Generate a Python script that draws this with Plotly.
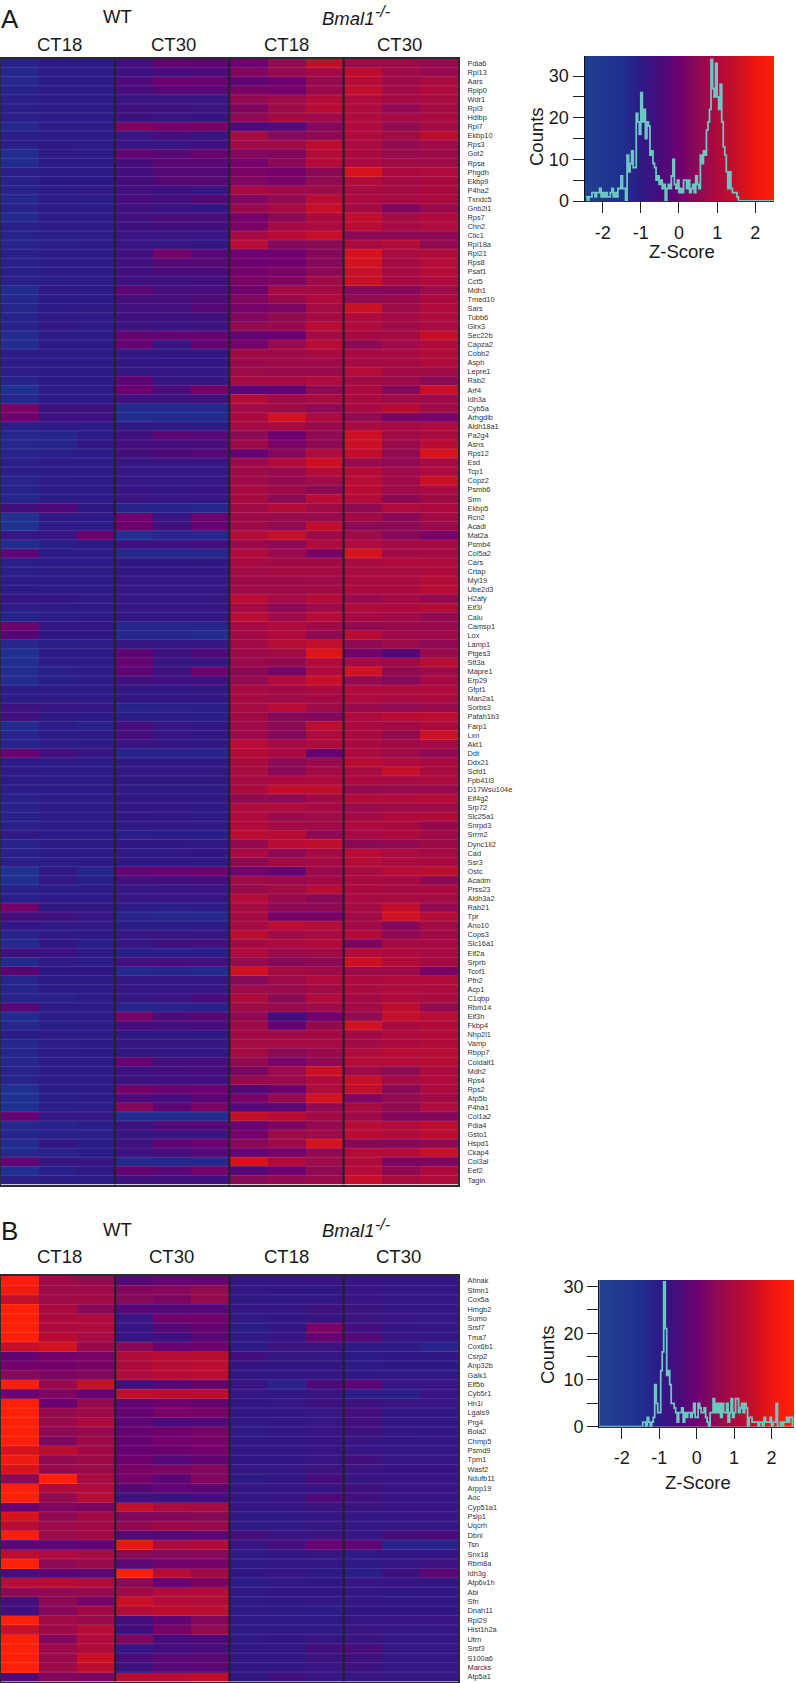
import numpy as np
import plotly.graph_objects as go

FONT = "Liberation Sans"
W, H = 796, 1683

genes_a = ["Pdia6","Rpl13","Aars","Rplp0","Wdr1","Rpl3","Hdlbp","Rpl7","Ekbp10","Rps3","Got2","Rpsa","Phgdh","Ekbp9","P4ha2","Txndc5","Gnb2l1","Rps7","Chn2","Clic1","Rpl18a","Rpl21","Rps8","Psaf1","Cct5","Mdh1","Tmed10","Sars","Tubb6","Glrx3","Sec22b","Capza2","Cobb2","Asph","Lepre1","Rab2","Arf4","Idh3a","Cyb5a","Arhgdib","Aldh18a1","Pa2g4","Asns","Rps12","Esd","Tcp1","Copz2","Psmb6","Srm","Ekbp5","Rcn2","Acadl","Mat2a","Psmb4","Col5a2","Cars","Crtap","Myl19","Ube2d3","H2afy","Eif3l","Calu","Camsp1","Lox","Lamp1","Ptges3","Stt3a","Mapre1","Erp29","Gfpt1","Man2a1","Sorbs3","Pafah1b3","Farp1","Lxn","Akt1","Ddt","Ddx21","Scfd1","Fpb41l3","D17Wsu104e","Eif4g2","Srp72","Slc25a1","Snrpd3","Srrm2","Dync1li2","Cad","Ssr3","Ostc","Acadm","Prss23","Aldh3a2","Rab21","Tpr","Ano10","Cops3","Slc16a1","Eif2a","Srprb","Tcof1","Pfn2","Acp1","C1qbp","Rbm14","Eif3h","Fkbp4","Nhp2l1","Vamp","Rbpp7","Coldalt1","Mdh2","Rps4","Rps2","Atp5b","P4ha1","Col1a2","Pdia4","Gsto1","Hspd1","Ckap4","Col3al","Eef2","Tagin"]

genes_b = ["Ahnak","Stmn1","Cox5a","Hmgb2","Sumo","Srsf7","Tma7","Cox6b1","Csrp2","Anp32b","Galk1","Eif5b","Cyb5r1","Hn1l","Lgals9","Prg4","Bola2","Chmp5","Psmd9","Tpm1","Wasf2","Ndufb11","Arpp19","Aoc","Cyp51a1","Psip1","Uqcrh","Dbnl","Tsn","Snx18","Rbm8a","Idh3g","Atp6v1h","Abi","Sfn","Dnah11","Rpl29","Hist1h2a","Utrn","Srsf3","S100a6","Marcks","Atp5a1"]

# Z-scores per gene: WT CT18 x3, WT CT30 x3, Bmal1-/- CT18 x3, Bmal1-/- CT30 x3
z_a = [
[-1.2,-1.05,-1.05,-0.6,-0.15,-0.2,0.0,0.6,1.5,0.75,0.75,0.65],
[-1.3,-1.05,-1.05,-0.7,-0.5,-0.4,0.3,0.65,0.9,1.4,0.8,0.7],
[-1.3,-1.0,-1.0,-0.4,0.0,0.0,-0.2,0.0,0.65,1.2,0.8,1.0],
[-1.2,-1.05,-1.05,-0.5,-0.3,-0.3,0.2,0.1,0.7,1.5,0.85,1.1],
[-1.1,-1.05,-1.05,-0.8,-0.8,-0.8,0.6,0.8,1.2,1.1,0.9,1.0],
[-1.1,-1.05,-1.05,-0.6,-0.7,-0.75,0.3,0.8,1.3,1.1,0.55,0.9],
[-1.1,-1.05,-1.0,-0.7,-0.75,-0.8,0.5,0.85,0.8,1.1,0.9,1.0],
[-1.3,-1.05,-1.0,0.25,0.1,0.15,-0.4,-0.3,0.4,1.1,0.6,0.9],
[-1.1,-1.05,-1.05,-0.8,-0.5,-0.75,0.9,0.4,0.5,1.1,0.85,1.4],
[-1.1,-1.0,-1.05,-0.8,-0.8,-0.7,0.8,0.85,1.4,1.0,0.6,0.8],
[-1.4,-0.95,-1.0,-0.1,-0.3,-0.05,0.35,0.3,1.2,1.0,0.7,0.75],
[-1.4,-1.0,-1.0,-0.5,-0.25,-0.25,0.1,0.5,1.2,1.0,0.8,0.8],
[-1.1,-1.0,-1.0,-0.6,-0.3,-0.3,0.2,0.1,0.5,1.9,1.0,1.1],
[-1.15,-1.0,-1.0,-0.5,-0.3,-0.3,0.3,0.2,0.6,1.1,0.9,1.0],
[-1.2,-1.0,-0.95,-0.6,-0.7,-0.8,0.9,0.8,0.8,0.95,0.9,1.0],
[-1.3,-1.05,-1.05,-0.5,-0.6,-0.3,0.3,0.6,1.3,1.0,0.9,1.0],
[-1.2,-1.05,-1.05,-0.6,-0.8,-0.9,0.7,0.9,1.6,0.9,0.3,0.7],
[-1.35,-1.0,-1.0,-0.6,-0.5,-0.5,0.1,0.5,1.0,1.5,0.9,1.1],
[-1.1,-1.0,-1.0,-0.7,-0.6,-0.6,0.2,0.9,1.0,1.3,0.9,1.1],
[-1.2,-1.1,-1.1,-0.8,-0.8,-0.8,0.9,1.3,1.6,0.5,0.5,0.5],
[-1.2,-1.1,-1.05,-0.8,-0.85,-0.9,1.3,0.4,0.5,1.0,1.2,0.6],
[-1.1,-1.05,-1.05,-0.6,0.1,-0.3,0.0,0.0,0.4,1.9,1.0,1.1],
[-1.15,-1.05,-1.05,-0.6,-0.3,-0.3,0.0,0.05,0.4,1.8,0.9,1.2],
[-1.1,-1.05,-1.05,-0.6,-0.45,-0.45,0.1,0.2,0.5,1.6,0.9,1.2],
[-1.15,-1.05,-1.05,-0.7,-0.65,-0.6,0.2,0.3,0.8,1.6,0.9,1.1],
[-1.4,-0.95,-1.0,-0.2,-0.5,-0.5,0.0,0.9,0.9,0.4,0.4,0.8],
[-1.3,-1.0,-1.0,-0.5,-0.5,-0.4,0.3,0.7,1.1,0.6,0.7,1.0],
[-1.25,-1.0,-0.95,-0.6,-0.6,-0.3,0.15,0.25,0.9,1.7,0.75,1.1],
[-1.2,-0.95,-0.95,-0.65,-0.7,-0.6,0.3,0.6,0.9,1.1,0.9,1.1],
[-1.2,-0.9,-1.0,-0.65,-0.75,-0.7,0.6,0.7,1.3,1.1,0.8,1.0],
[-1.4,-1.05,-1.0,-0.1,-0.1,-0.1,-0.1,-0.05,0.9,0.9,0.9,1.6],
[-1.4,-1.0,-1.0,-0.1,-0.8,-0.1,0.1,0.7,1.3,0.5,0.8,1.1],
[-1.05,-1.0,-1.0,-0.95,-0.9,-0.9,0.85,0.8,0.95,0.95,0.95,1.15],
[-1.05,-1.0,-1.0,-0.9,-0.9,-0.9,0.7,0.8,0.8,0.9,0.9,1.1],
[-1.05,-1.0,-1.0,-0.85,-0.85,-0.85,0.75,0.7,0.7,1.2,0.85,0.85],
[-1.2,-1.0,-1.0,-0.2,-0.85,-0.85,0.9,0.9,1.1,0.85,0.8,0.5],
[-1.5,-1.05,-1.0,-0.05,-0.45,0.1,-0.25,-0.1,0.55,1.0,0.4,1.6],
[-1.3,-1.0,-1.0,-0.7,-0.7,-0.65,1.2,0.8,0.95,1.0,0.85,0.8],
[0.2,-0.7,-0.7,-1.4,-1.35,-1.35,0.85,0.8,0.55,0.9,1.3,0.8],
[0.0,-0.7,-0.7,-1.4,-1.35,-1.35,1.0,1.8,1.0,0.6,0.2,0.1],
[-1.1,-1.0,-1.0,-0.95,-0.95,-0.95,0.9,0.9,0.7,1.0,0.9,1.05],
[-1.3,-1.25,-1.0,-0.6,-0.2,-0.3,0.5,0.0,0.55,1.7,0.85,1.0],
[-1.3,-1.25,-0.9,-0.5,-0.5,-0.45,0.75,0.2,0.5,1.7,0.7,1.3],
[-1.2,-1.1,-1.05,-0.55,-0.4,-0.3,-0.1,0.4,1.1,1.5,0.6,1.9],
[-1.1,-1.0,-1.0,-0.85,-0.8,-0.8,0.75,1.1,1.7,0.7,0.6,0.9],
[-1.1,-1.0,-1.0,-0.85,-0.85,-0.85,0.8,0.7,1.2,1.2,0.8,1.05],
[-1.2,-1.05,-1.0,-0.85,-0.85,-0.85,0.8,0.65,0.8,1.25,0.8,1.7],
[-1.2,-1.05,-1.0,-0.85,-0.85,-0.8,0.9,0.75,0.5,1.3,0.8,1.0],
[-1.25,-1.05,-1.0,-0.75,-0.8,-0.8,0.9,0.5,1.3,1.2,0.5,0.8],
[-0.6,-0.4,-0.9,-1.2,-1.2,-1.3,0.85,1.2,0.85,0.6,1.1,1.0],
[-1.6,-1.0,-1.0,0.0,-0.8,0.0,0.8,0.7,0.7,0.85,0.45,0.9],
[-1.6,-1.0,-1.0,0.0,-0.65,-0.1,0.75,0.6,1.5,0.5,0.5,0.7],
[-0.8,-0.8,0.0,-1.5,-1.3,-1.3,1.2,1.6,0.8,0.8,0.45,0.15],
[-1.4,-1.1,-1.0,-0.7,-0.7,-0.6,0.7,0.5,1.1,1.1,0.9,0.9],
[-0.2,-1.0,-1.0,-1.3,-1.3,-1.3,1.1,0.7,0.2,1.9,0.85,0.9],
[-1.1,-1.0,-1.0,-0.9,-0.9,-0.9,0.9,0.85,0.85,0.95,1.05,1.1],
[-1.1,-1.0,-1.0,-0.9,-0.9,-0.9,0.85,0.9,0.9,0.95,0.95,1.05],
[-1.05,-1.0,-1.0,-0.85,-0.85,-0.85,0.75,0.75,0.8,1.0,0.95,1.2],
[-1.0,-1.0,-1.0,-0.85,-0.85,-0.85,0.8,0.8,0.85,1.0,1.0,1.3],
[-0.9,-0.9,-0.95,-0.85,-0.85,-0.85,1.3,0.9,1.2,0.7,0.9,0.65],
[-1.05,-1.0,-1.0,-0.85,-0.85,-0.85,0.9,0.5,0.8,1.1,1.0,1.2],
[-1.2,-1.05,-1.0,-0.85,-0.85,-0.85,1.3,0.8,1.2,0.9,0.8,0.6],
[0.0,-0.9,-0.9,-1.3,-1.3,-1.25,0.9,1.1,0.8,0.6,0.7,0.7],
[-0.3,-0.9,-0.9,-1.3,-1.25,-1.4,0.85,1.1,0.55,1.3,0.8,0.8],
[-1.3,-1.1,-1.05,-0.85,-0.85,-0.85,0.85,1.25,1.5,0.55,0.75,0.55],
[-1.55,-1.0,-1.0,-0.2,-0.7,-0.4,0.75,0.85,2.0,0.1,-0.3,0.7],
[-1.45,-1.05,-1.05,-0.1,-0.8,-0.8,0.7,0.6,1.1,0.95,0.85,1.25],
[-1.4,-1.15,-1.05,-0.2,-0.7,0.0,0.5,0.15,1.1,1.8,0.6,0.8],
[-1.4,-1.1,-1.05,-0.6,-0.7,-0.6,0.65,1.1,1.6,0.6,0.4,0.9],
[-1.05,-1.0,-1.0,-0.9,-0.9,-0.9,0.95,0.85,1.0,1.1,1.05,1.05],
[-1.05,-1.0,-1.0,-0.9,-0.9,-0.9,0.9,0.8,0.85,1.05,0.95,1.0],
[-0.7,-0.8,-0.85,-1.2,-1.15,-1.1,0.9,1.3,0.75,0.7,0.6,0.7],
[-0.6,-0.95,-1.0,-1.1,-1.1,-1.1,0.85,0.4,0.35,1.05,1.3,1.35],
[-1.4,-1.05,-1.2,-0.55,-0.85,-0.9,0.8,0.5,1.35,1.0,0.85,1.05],
[-1.25,-1.05,-1.0,-0.5,-0.85,-0.9,0.75,0.4,1.1,1.0,0.65,1.65],
[-1.2,-1.05,-1.0,-0.75,-0.85,-0.9,1.25,0.9,1.1,1.0,0.85,0.9],
[-0.05,-0.55,-0.85,-1.25,-1.2,-1.25,1.2,0.95,-0.1,1.0,0.8,0.55],
[-1.05,-1.0,-1.0,-0.9,-0.9,-0.9,0.95,0.5,0.7,1.3,1.05,1.0],
[-0.95,-1.0,-1.0,-0.9,-0.9,-0.9,0.95,0.45,0.85,0.95,1.6,1.0],
[-1.0,-1.0,-1.0,-0.9,-0.9,-0.9,0.9,1.0,1.05,1.0,0.95,1.05],
[-1.05,-1.0,-1.0,-0.95,-0.95,-0.95,1.0,1.5,1.45,0.65,0.7,0.7],
[-1.15,-1.05,-1.05,-0.9,-0.9,-0.9,0.6,0.55,0.85,1.15,1.1,1.2],
[-1.2,-1.05,-1.05,-0.9,-0.95,-0.95,1.1,1.1,0.9,0.75,0.8,0.8],
[-1.15,-1.05,-1.05,-0.9,-0.9,-0.95,1.05,0.7,0.8,0.85,1.05,1.15],
[-1.15,-1.05,-1.05,-0.95,-0.95,-0.95,1.1,0.85,0.85,1.05,1.0,0.65],
[-0.95,-1.0,-1.0,-1.15,-1.1,-1.1,1.35,1.25,0.55,0.9,1.05,0.8],
[-1.2,-1.05,-1.05,-0.9,-0.9,-0.95,0.65,1.3,1.45,0.5,0.6,0.75],
[-1.15,-1.05,-1.05,-0.95,-0.95,-0.9,1.0,0.5,0.9,1.3,1.05,0.9],
[-1.1,-1.05,-1.0,-0.9,-0.9,-0.9,0.5,0.85,0.9,1.2,1.0,1.0],
[-1.6,-0.95,-1.25,-0.15,-0.05,0.0,0.05,-0.1,0.7,0.95,1.25,1.45],
[-1.5,-0.95,-1.1,-0.55,-0.6,-0.5,0.8,0.75,0.85,1.0,0.9,0.5],
[-1.15,-1.05,-1.0,-0.85,-0.8,-0.8,0.7,0.85,1.25,1.0,0.9,1.0],
[-1.1,-1.0,-1.0,-0.85,-0.85,-0.85,1.2,0.7,0.45,0.95,0.95,0.9],
[0.1,-0.9,-0.9,-1.0,-1.1,-1.05,0.9,0.5,0.5,0.9,1.5,0.6],
[-0.5,-0.65,-0.8,-1.2,-1.3,-1.3,0.9,0.15,0.15,0.85,1.8,1.2],
[-0.9,-0.95,-0.95,-1.05,-1.05,-1.0,0.9,1.35,1.2,0.85,0.4,0.85],
[-1.2,-0.95,-1.0,-0.85,-0.85,-0.85,1.35,0.8,0.95,1.15,0.55,0.85],
[-1.35,-0.9,-1.1,-0.85,-0.65,-0.6,0.85,1.05,1.15,0.25,0.9,0.9],
[-0.65,-0.7,-1.0,-1.15,-1.15,-1.1,1.1,0.7,0.8,1.1,1.05,0.95],
[-1.35,-0.95,-1.05,-0.6,-0.55,-0.6,0.7,0.4,0.5,1.7,1.15,0.9],
[-0.2,-0.95,-0.9,-1.35,-1.3,-1.35,1.75,0.9,0.8,0.75,0.75,0.2],
[-1.25,-1.0,-1.0,-0.85,-0.85,-0.85,0.4,0.75,1.1,1.0,1.1,1.15],
[-1.25,-1.05,-1.05,-0.85,-0.85,-0.85,0.8,0.7,0.85,1.0,1.1,1.05],
[-1.2,-1.15,-1.0,-0.85,-0.8,-0.5,1.05,0.5,1.1,0.85,1.05,0.95],
[-0.3,-1.0,-1.0,-1.2,-1.2,-1.15,0.8,0.7,0.8,0.85,1.4,0.65],
[-1.4,-1.05,-1.0,0.15,-0.4,-0.3,0.55,-0.6,0.05,0.6,1.55,1.25],
[-1.3,-1.1,-1.05,-0.5,-0.55,-0.5,0.8,-0.1,0.65,1.8,0.95,1.15],
[-1.05,-1.0,-1.0,-0.9,-0.9,-0.9,0.85,0.8,0.85,0.85,1.05,1.15],
[-1.3,-1.05,-1.0,-0.85,-0.85,-0.85,0.9,0.9,0.9,0.85,1.0,1.15],
[-1.25,-1.05,-1.0,-0.9,-0.9,-0.9,0.9,0.5,0.7,1.1,1.25,1.25],
[-1.3,-1.05,-1.0,-0.1,-0.6,-0.55,0.6,0.2,0.55,1.2,1.2,1.3],
[-1.2,-1.05,-1.0,-0.7,-0.55,-0.5,0.25,0.75,1.65,0.75,0.55,1.05],
[-1.2,-1.05,-1.0,-0.7,-0.65,-0.6,0.7,0.7,1.1,1.6,0.9,1.1],
[-1.55,-1.05,-1.0,0.15,-0.05,0.0,-0.35,0.0,1.1,1.5,0.45,1.0],
[-1.55,-1.1,-1.05,-0.4,-0.5,-0.2,0.15,0.6,1.8,0.3,0.6,0.85],
[-1.55,-1.1,-1.05,0.35,-0.2,0.2,-0.3,-0.25,0.6,0.95,0.55,1.1],
[-0.1,-0.85,-0.85,-1.4,-1.4,-1.4,1.55,1.3,0.85,0.8,0.35,0.35],
[-1.35,-1.2,-1.1,-0.7,-0.35,-0.3,-0.05,0.25,0.65,1.25,1.15,1.4],
[-1.25,-1.15,-1.1,-0.8,-0.75,-0.7,0.1,0.75,0.85,1.3,1.1,1.35],
[-1.4,-0.9,-1.05,-0.7,-0.2,-0.05,0.45,0.75,1.9,0.4,0.4,0.55],
[-1.35,-1.2,-1.1,-0.7,-0.5,-0.3,-0.1,0.1,0.55,1.2,1.15,1.6],
[-0.15,-0.8,-0.85,-1.35,-1.3,-1.3,1.85,1.1,0.8,1.15,0.25,0.25],
[-1.5,-1.15,-0.95,-0.1,-0.25,0.1,-0.35,0.0,0.55,1.2,0.5,1.05],
[-1.1,-1.05,-1.05,-0.65,-0.6,-0.6,0.45,0.6,0.7,1.6,0.95,1.15],
]

z_b = [
[2.3,0.8,0.65,-0.35,-0.15,-0.1,-0.85,-0.85,-0.8,-0.8,-0.85,-0.85],
[2.2,0.75,0.8,0.35,0.4,0.6,-0.85,-0.9,-0.9,-0.8,-0.85,-0.85],
[1.5,0.8,0.85,0.4,0.25,0.65,-0.95,-0.95,-0.9,-0.8,-0.85,-0.85],
[2.4,1.0,0.45,-0.3,-0.35,-0.3,-0.85,-0.85,-0.7,-0.75,-0.85,-0.85],
[2.4,1.0,1.05,-0.75,0.05,0.05,-0.95,-0.9,-0.75,-0.75,-0.8,-0.85],
[2.4,1.05,1.1,-0.8,-0.35,-0.1,-1.05,-0.9,0.2,-0.55,-0.85,-0.85],
[2.4,1.3,0.9,-0.8,-0.65,-0.25,-0.95,-0.85,-0.1,-0.35,-0.8,-0.85],
[1.6,1.8,0.7,0.45,-0.05,0.0,-1.0,-0.75,-0.75,-0.95,-0.95,-1.2],
[-0.15,0.1,0.2,1.15,1.3,1.35,-0.6,-0.85,-0.85,-1.0,-0.9,-0.9],
[0.1,0.1,0.2,1.1,1.3,1.35,-0.8,-0.9,-0.9,-1.0,-0.95,-0.95],
[0.4,0.25,0.35,1.1,1.3,1.35,-0.9,-0.9,-0.85,-0.95,-0.95,-0.95],
[2.3,0.7,1.6,-0.55,-0.3,-0.1,-0.8,-1.2,-0.4,-0.2,-0.75,-0.8],
[0.0,0.25,-0.05,1.5,1.4,1.4,-0.85,-0.9,-0.85,-1.1,-1.1,-0.8],
[2.4,-0.05,0.65,-0.15,0.05,-0.1,-0.9,-0.85,-0.7,-0.7,-0.8,-0.8],
[2.4,0.65,0.75,-0.1,0.2,0.15,-0.9,-0.9,-0.85,-0.55,-0.9,-0.9],
[2.4,0.7,1.05,-0.2,-0.45,-0.35,-0.95,-0.9,-0.85,-0.6,-0.9,-0.9],
[2.4,0.5,0.65,-0.1,0.05,0.15,-0.95,-0.9,-0.8,-0.7,-0.85,-0.9],
[2.4,0.3,0.8,-0.1,0.1,0.15,-0.95,-0.9,-0.8,-0.8,-0.85,-0.85],
[1.9,1.35,0.85,-0.05,0.0,0.1,-0.9,-0.9,-0.8,-0.85,-0.85,-0.85],
[2.2,0.6,0.75,0.0,-0.3,-0.15,-0.9,-0.9,-0.8,-0.6,-0.85,-0.85],
[1.9,0.7,0.75,0.2,0.25,0.35,-0.85,-0.85,-0.75,-0.75,-0.8,-0.8],
[0.5,2.4,0.95,0.1,-0.2,0.3,-1.0,-0.9,-0.5,-0.85,-0.8,-0.8],
[2.4,1.1,1.1,-0.3,-0.15,-0.2,-0.85,-0.85,-0.75,-0.6,-0.8,-0.8],
[2.4,0.6,1.2,-0.6,-0.7,-0.55,-0.85,-0.8,-0.4,-0.6,-0.85,-0.85],
[-0.05,0.3,0.25,1.6,1.05,0.9,-0.85,-0.85,-0.75,-0.75,-0.8,-0.8],
[1.9,0.55,0.85,0.3,0.35,0.45,-0.95,-0.95,-0.85,-0.85,-0.85,-0.8],
[1.3,0.75,0.85,0.55,0.75,0.7,-0.95,-0.95,-0.85,-0.85,-0.85,-0.85],
[2.3,0.75,0.85,-0.3,-0.35,-0.25,-0.55,-0.75,-0.75,-0.85,-0.5,-0.45],
[-0.25,-0.25,-0.15,2.1,1.05,1.1,-0.8,-0.55,-0.1,-0.2,-1.2,-1.2],
[1.4,1.1,0.95,0.45,0.4,0.4,-0.95,-0.9,-0.85,-1.0,-0.9,-0.9],
[2.4,0.55,0.7,-0.25,0.05,0.1,-0.95,-0.9,-0.9,-0.95,-0.85,-0.7],
[-0.45,-0.2,-0.25,2.4,1.3,0.85,-0.9,-0.85,-0.95,-1.1,-0.7,-0.25],
[1.25,1.3,1.15,0.5,-0.1,0.25,-1.05,-0.95,-0.9,-0.8,-0.8,-0.9],
[0.5,0.55,0.65,0.85,1.15,1.2,-0.95,-0.9,-0.9,-0.85,-0.9,-0.9],
[-0.55,0.5,0.15,1.7,1.2,1.2,-0.95,-0.9,-0.95,-0.85,-0.9,-0.9],
[-0.6,0.4,0.85,1.2,1.45,1.35,-0.95,-0.95,-1.05,-0.9,-0.9,-0.9],
[2.4,0.85,0.7,-0.5,-0.15,0.35,-0.95,-0.95,-0.95,-0.85,-0.8,-0.75],
[1.6,0.75,1.3,-0.6,0.15,0.6,-0.95,-0.95,-0.95,-0.8,-0.85,-0.85],
[2.4,0.35,1.1,0.3,-0.5,-0.4,-0.95,-0.9,-0.8,-0.75,-0.85,-0.85],
[2.4,0.75,1.15,-0.85,-0.55,-0.45,-0.9,-0.9,-0.55,-0.45,-0.85,-0.85],
[2.4,0.7,1.7,-0.45,-0.25,-0.25,-0.9,-0.9,-0.75,-0.65,-0.85,-0.85],
[2.4,0.75,1.4,-0.7,-0.3,-0.25,-0.9,-0.9,-0.8,-0.7,-0.85,-0.85],
[-0.4,0.3,0.25,1.3,1.3,1.45,-0.9,-0.6,-0.8,-0.85,-0.85,-0.85],
]

# Histogram A: bin left edges (Z-score) and counts
hist_a_x = [-2.44,-2.40,-2.36,-2.32,-2.28,-2.24,-2.20,-2.16,-2.12,-2.08,-2.04,-2.00,-1.96,-1.92,-1.88,-1.84,-1.80,-1.76,-1.72,-1.68,-1.64,-1.60,-1.56,-1.52,-1.48,-1.44,-1.40,-1.36,-1.32,-1.28,-1.24,-1.20,-1.16,-1.12,-1.08,-1.04,-1.00,-0.96,-0.92,-0.88,-0.84,-0.80,-0.76,-0.72,-0.68,-0.64,-0.60,-0.56,-0.52,-0.48,-0.44,-0.40,-0.36,-0.32,-0.28,-0.24,-0.20,-0.16,-0.12,-0.08,-0.04,0.00,0.04,0.08,0.12,0.16,0.20,0.24,0.28,0.32,0.36,0.40,0.44,0.48,0.52,0.56,0.60,0.64,0.68,0.72,0.76,0.80,0.84,0.88,0.92,0.96,1.00,1.04,1.08,1.12,1.16,1.20,1.24,1.28,1.32,1.36,1.40,1.44,1.48,1.52,1.56,1.60,2.48]
hist_a_y = [1,0,1,1,2,2,1,2,2,3,1,2,1,2,1,1,2,3,1,2,1,3,3,6,3,3,0,11,7,9,12,8,8,21,19,16,26,19,22,15,19,18,11,12,9,8,5,6,4,5,3,4,0,3,4,3,6,10,4,3,5,2,3,2,5,5,3,5,2,3,4,2,6,4,3,11,9,12,11,17,19,22,34,27,25,33,25,22,28,19,13,11,7,3,7,3,2,2,2,1,0,0,0]

# Histogram B: bin left edges (Z-score) and counts
hist_b_x = [-2.58,-1.44,-1.40,-1.36,-1.32,-1.28,-1.24,-1.20,-1.16,-1.12,-1.08,-1.04,-1.00,-0.96,-0.92,-0.88,-0.84,-0.80,-0.76,-0.72,-0.68,-0.64,-0.60,-0.56,-0.52,-0.48,-0.44,-0.40,-0.36,-0.32,-0.28,-0.24,-0.20,-0.16,-0.12,-0.08,-0.04,0.00,0.04,0.08,0.12,0.16,0.20,0.24,0.28,0.32,0.36,0.40,0.44,0.48,0.52,0.56,0.60,0.64,0.68,0.72,0.76,0.80,0.84,0.88,0.92,0.96,1.00,1.04,1.08,1.12,1.16,1.20,1.24,1.28,1.32,1.36,1.40,1.44,1.48,1.52,1.56,1.60,1.64,1.68,1.72,1.76,1.80,1.84,1.88,1.92,1.96,2.00,2.04,2.08,2.12,2.16,2.20,2.24,2.28,2.32,2.36,2.40,2.44,2.48,2.52,2.56]
hist_b_y = [0,1,1,0,2,1,0,1,2,9,5,3,3,12,16,31,21,11,12,9,5,5,4,3,1,3,3,4,1,3,2,3,3,2,3,5,2,2,5,4,3,3,4,2,1,0,3,3,6,3,5,3,5,2,5,3,3,5,1,3,6,2,3,6,6,3,4,5,3,5,4,0,2,2,1,1,1,1,0,1,1,0,2,1,1,1,2,0,1,1,5,0,0,1,0,1,1,2,1,2,2,0]

group_edges = [2.5, 5.5, 8.5]

colorscale = [
    [0.00, "#21408f"], [0.20, "#1f3090"], [0.30, "#2d1a86"], [0.40, "#470d7c"],
    [0.50, "#6e0070"], [0.60, "#8c0a54"], [0.70, "#ad0a3e"], [0.80, "#c80e28"],
    [0.90, "#ee1610"], [1.00, "#ff200a"],
]
heat_colorscale = [
    [0.00, "#21408f"], [0.20, "#1f3090"], [0.30, "#2d1a86"], [0.40, "#470d7c"],
    [0.50, "#6e0070"], [0.60, "#8c0a54"], [0.70, "#ab0a40"], [0.80, "#c00e2c"],
    [0.90, "#dc1418"], [0.97, "#ff200a"], [1.00, "#ff200a"],
]

def dom_x(a, b):
    return [a / W, b / W]

def dom_y(top, bottom):
    return [1 - bottom / H, 1 - top / H]

fig = go.Figure()
shapes = []
annotations = []

def add_heat(z, genes, ax, box):
    xn = "x" if ax == 1 else f"x{ax}"
    yn = "y" if ax == 1 else f"y{ax}"
    rows = list(range(len(genes)))
    cols = list(range(12))
    fig.add_trace(go.Heatmap(z=z, x=cols, y=rows, xaxis=xn, yaxis=yn, colorscale=heat_colorscale,
                             zmin=-2.5, zmax=2.5, showscale=False, hoverinfo="skip"))
    lx, ly = [], []
    for r in rows[:-1]:
        lx += [-0.5, 11.5, None]
        ly += [r + 0.5, r + 0.5, None]
    fig.add_trace(go.Scatter(x=lx, y=ly, xaxis=xn, yaxis=yn, mode="lines", showlegend=False,
                             hoverinfo="skip", line=dict(color="rgba(255,255,255,0.16)", width=0.8)))
    for e in group_edges:
        shapes.append(dict(type="line", xref=xn, yref=yn, x0=e, x1=e, y0=-0.5, y1=len(genes) - 0.5,
                           line=dict(color="#23212b", width=2.2), layer="above"))
    kx = "xaxis" if ax == 1 else f"xaxis{ax}"
    ky = "yaxis" if ax == 1 else f"yaxis{ax}"
    fig.update_layout({
        kx: dict(domain=dom_x(box[0], box[1]), range=[-0.5, 11.5], showticklabels=False, ticks="",
                 showgrid=False, zeroline=False, showline=True, mirror=True, linecolor="#2b2b2f",
                 linewidth=2, anchor=yn),
        ky: dict(domain=dom_y(box[2], box[3]), range=[len(genes) - 0.5, -0.5], side="right",
                 tickmode="array", tickvals=rows, ticktext=genes, ticks="outside", ticklen=6,
                 tickcolor="rgba(0,0,0,0)", tickfont=dict(family=FONT, size=7.4, color="#333333"),
                 showgrid=False, zeroline=False, showline=True, mirror=True, linecolor="#2b2b2f",
                 linewidth=2, anchor=xn),
    })

def add_hist(hx, hy, ax, box, xr, yr):
    xn, yn = f"x{ax}", f"y{ax}"
    grad = np.linspace(xr[0], xr[1], 200)
    fig.add_trace(go.Heatmap(z=[grad.tolist()], x=grad.tolist(), y=[0, yr[1]], xaxis=xn, yaxis=yn,
                             colorscale=colorscale, zmin=-2.5, zmax=2.5, showscale=False,
                             hoverinfo="skip"))
    fig.add_trace(go.Scatter(x=hx, y=hy, xaxis=xn, yaxis=yn, mode="lines", showlegend=False,
                             hoverinfo="skip", line=dict(color="#6cc6c2", width=1.8, shape="hv")))
    axfont = dict(family=FONT, size=18, color="#1a1a1a")
    fig.update_layout({
        f"xaxis{ax}": dict(domain=dom_x(box[0], box[1]), range=xr, anchor=yn, tickmode="array",
                           tickvals=[-2, -1, 0, 1, 2], ticktext=["-2", "-1", "0", "1", "2"],
                           ticks="outside", ticklen=11, tickwidth=1.2, tickcolor="#222222",
                           tickfont=axfont, ticklabelstandoff=4, showgrid=False, zeroline=False,
                           showline=True, linecolor="#333333", linewidth=1.2),
        f"yaxis{ax}": dict(domain=dom_y(box[2], box[3]), range=yr, anchor=xn, tickmode="array",
                           tickvals=[0, 10, 20, 30], ticks="outside", ticklen=11, tickwidth=1.2,
                           tickcolor="#222222", tickfont=axfont, showgrid=False, zeroline=False,
                           showline=True, linecolor="#111111", linewidth=1.4,
                           minor=dict(tickmode="array", tickvals=[5, 15, 25, 35], ticks="outside",
                                      ticklen=11, tickwidth=1.2, tickcolor="#222222")),
    })

add_heat(z_a, genes_a, 1, (0.5, 458, 58.5, 1184.5))
add_hist(hist_a_x, hist_a_y, 2, (584.7, 774, 56, 201), [-2.47, 2.49], [0, 34.8])
add_heat(z_b, genes_b, 3, (1, 458, 1276, 1681.5))
add_hist(hist_b_x, hist_b_y, 4, (599.3, 794, 1280, 1426.7), [-2.6, 2.6], [0, 31.4])

def text(s, x, y, size, angle=0, style="normal"):
    annotations.append(dict(text=s, x=x / W, y=1 - y / H, xref="paper", yref="paper", xanchor="center",
                            yanchor="middle", showarrow=False, textangle=angle,
                            font=dict(family=FONT, size=size, color="#1a1a1a", style=style)))

text("A", 10, 19, 26)
text("WT", 117, 17, 18.5)
text("Bmal1", 348, 18, 18.5, style="italic")
text("-/-", 382, 12, 16, style="italic")
for label, x in zip(["CT18", "CT30", "CT18", "CT30"], [59, 173, 286, 400]):
    text(label, x, 44, 18.5)
text("B", 9, 1231, 26)
text("WT", 117, 1229, 18.5)
text("Bmal1", 348, 1230, 18.5, style="italic")
text("-/-", 382, 1224, 16, style="italic")
for label, x in zip(["CT18", "CT30", "CT18", "CT30"], [59, 171, 286, 398]):
    text(label, x, 1256, 18.5)
text("Counts", 536, 137, 18.5, -90)
text("Z-Score", 682, 252, 18.5)
text("Counts", 547, 1355, 18.5, -90)
text("Z-Score", 697.5, 1482, 18.5)

fig.update_layout(width=W, height=H, autosize=False,
                  margin=dict(l=0, r=0, t=0, b=0, autoexpand=False),
                  paper_bgcolor="white", plot_bgcolor="white", showlegend=False,
                  shapes=shapes, annotations=annotations, font=dict(family=FONT))

fig.write_html("out.html", config=dict(displayModeBar=False),
               post_script="document.body.style.margin='0';")
